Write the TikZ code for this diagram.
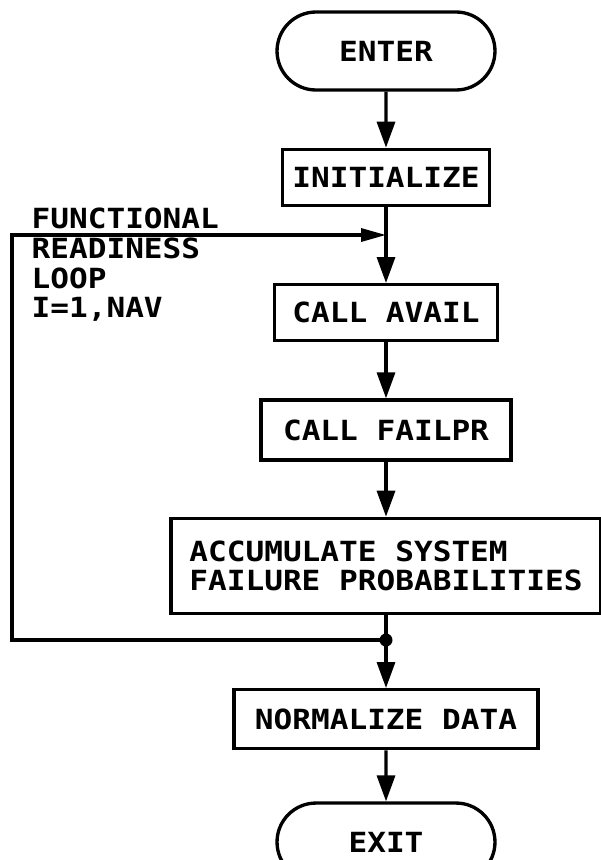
\documentclass[tikz,border=0pt]{standalone}
\usepackage{fontspec}
\setmainfont{DejaVu Sans Mono}[FakeStretch=1.12, UprightFont=* Bold]
\usetikzlibrary{shapes.misc,arrows.meta,positioning}

\begin{document}
\begin{tikzpicture}[
  font=\fontsize{15.8}{17}\selectfont,
  line width=1.9pt,
  block/.style={draw, rectangle, align=center, inner sep=2pt},
  terminal/.style={draw, rounded rectangle, align=center, inner sep=2pt,
                   minimum width=4.5cm, minimum height=1.56cm},
  >={Triangle[length=5.2mm, width=3.6mm]},
  loopin/.style={-{Triangle[length=5mm, width=2.6mm]}},
  node distance=1.12cm
]
\useasboundingbox (0,0) rectangle (12.02,-17.2);
\node[terminal] (enter) at (7.72,-1.02) {ENTER};
\node[block, below=of enter, minimum width=4.14cm, minimum height=1.12cm] (init) {INITIALIZE};
\node[block, below=1.52cm of init, minimum width=4.46cm, minimum height=1.12cm] (avail) {CALL AVAIL};
\node[block, below=of avail, minimum width=5cm, minimum height=1.2cm] (failpr) {CALL FAILPR};
\node[block, below=1.1cm of failpr, minimum width=8.6cm, minimum height=1.9cm, align=left] (accum)
  {ACCUMULATE SYSTEM\\FAILURE PROBABILITIES};
\node[block, below=1.46cm of accum, minimum width=6.08cm, minimum height=1.18cm] (norm) {NORMALIZE DATA};
\node[terminal, below=1.02cm of norm] (exit) {EXIT};
% loop junctions
\coordinate[below=0.56cm of init] (jtop);
\coordinate[below=0.5cm of accum] (jbot);
\node[anchor=north west, inner sep=0pt, align=left] (looplbl) at (0.6,-4.12)
  {FUNCTIONAL\\READINESS\\LOOP\\I=1,NAV};
\draw[->] (enter) -- (init);
\draw[->] (init) -- (avail);
\draw[->] (avail) -- (failpr);
\draw[->] (failpr) -- (accum);
\draw[->] (accum) -- (norm);
\draw[->] (norm) -- (exit);
\draw[loopin] (jbot) -- ++(-7.48,0) |- (jtop);
\fill (jbot) circle (0.13);
\end{tikzpicture}
\end{document}
